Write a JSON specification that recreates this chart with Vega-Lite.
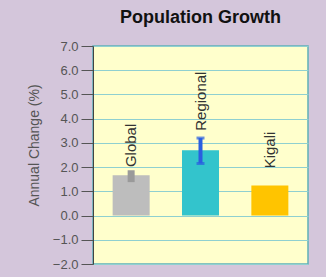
{
  "$schema": "https://vega.github.io/schema/vega-lite/v6.json",
  "autosize": "none",
  "width": 215,
  "height": 218,
  "padding": {"left": 93, "top": 46, "right": 18, "bottom": 13},
  "background": "#d4c6db",
  "config": {
    "font": "Liberation Sans",
    "view": {"fill": "#ffffcc", "stroke": "#5fb0b8", "strokeWidth": 1.5}
  },
  "title": {
    "text": "Population Growth",
    "fontSize": 18,
    "fontWeight": "bold",
    "color": "#111111",
    "anchor": "middle",
    "offset": 13,
    "font": "Liberation Sans"
  },
  "data": {
    "values": [
      {"region": "Global", "value": 1.66, "lo": 1.38, "hi": 1.87, "labelY": 2.0},
      {"region": "Regional", "value": 2.7, "lo": 2.15, "hi": 3.2, "labelY": 3.5},
      {"region": "Kigali", "value": 1.24, "lo": null, "hi": null, "labelY": 1.95}
    ]
  },
  "resolve": {"axis": {"y": "independent"}},
  "encoding": {
    "x": {
      "field": "region",
      "type": "nominal",
      "sort": ["Global", "Regional", "Kigali"],
      "scale": {"paddingInner": 0, "paddingOuter": 0.05},
      "axis": null
    }
  },
  "layer": [
    {
      "mark": {"type": "bar", "size": 37},
      "encoding": {
        "y": {
          "field": "value",
          "type": "quantitative",
          "scale": {"domain": [-2, 7], "nice": false, "zero": false},
          "axis": {
            "values": [-2, -1, 0, 1, 2, 3, 4, 5, 6, 7],
            "labelOverlap": false,
            "format": ".1f",
            "title": "Annual Change (%)",
            "titleFontSize": 14,
            "titleFontWeight": "normal",
            "titleColor": "#555555",
            "titlePadding": 11,
            "titleY": 99,
            "labelFontSize": 13,
            "labelColor": "#555555",
            "labelPadding": 3,
            "tickSize": 12,
            "tickColor": "#555555",
            "domainColor": "#444444",
            "gridColor": "#8fd0d0",
            "gridOpacity": 1,
            "gridWidth": 1
          }
        },
        "y2": {"datum": 0},
        "color": {
          "field": "region",
          "type": "nominal",
          "scale": {"domain": ["Global", "Regional", "Kigali"], "range": ["#bdbdbd", "#33c4cc", "#ffc400"]},
          "legend": null
        }
      }
    },
    {
      "transform": [{"filter": "datum.region === 'Global'"}],
      "mark": {"type": "rule", "color": "#9a9a9a", "strokeWidth": 7},
      "encoding": {
        "y": {"field": "lo", "type": "quantitative", "axis": null},
        "y2": {"field": "hi"}
      }
    },
    {
      "transform": [{"filter": "datum.region === 'Regional'"}],
      "mark": {"type": "rule", "color": "#2a5ee0", "strokeWidth": 4},
      "encoding": {
        "y": {"field": "lo", "type": "quantitative", "axis": null},
        "y2": {"field": "hi"}
      }
    },
    {
      "transform": [{"filter": "datum.region === 'Regional'"}],
      "mark": {"type": "tick", "color": "#2a5ee0", "size": 8, "thickness": 3, "orient": "horizontal"},
      "encoding": {
        "y": {"field": "lo", "type": "quantitative", "axis": null}
      }
    },
    {
      "transform": [{"filter": "datum.region === 'Regional'"}],
      "mark": {"type": "tick", "color": "#2a5ee0", "size": 8, "thickness": 3, "orient": "horizontal"},
      "encoding": {
        "y": {"field": "hi", "type": "quantitative", "axis": null}
      }
    },
    {
      "mark": {"type": "text", "angle": 270, "align": "left", "baseline": "middle", "fontSize": 15, "color": "#333333"},
      "encoding": {
        "y": {"field": "labelY", "type": "quantitative", "axis": null},
        "text": {"field": "region"}
      }
    }
  ]
}
